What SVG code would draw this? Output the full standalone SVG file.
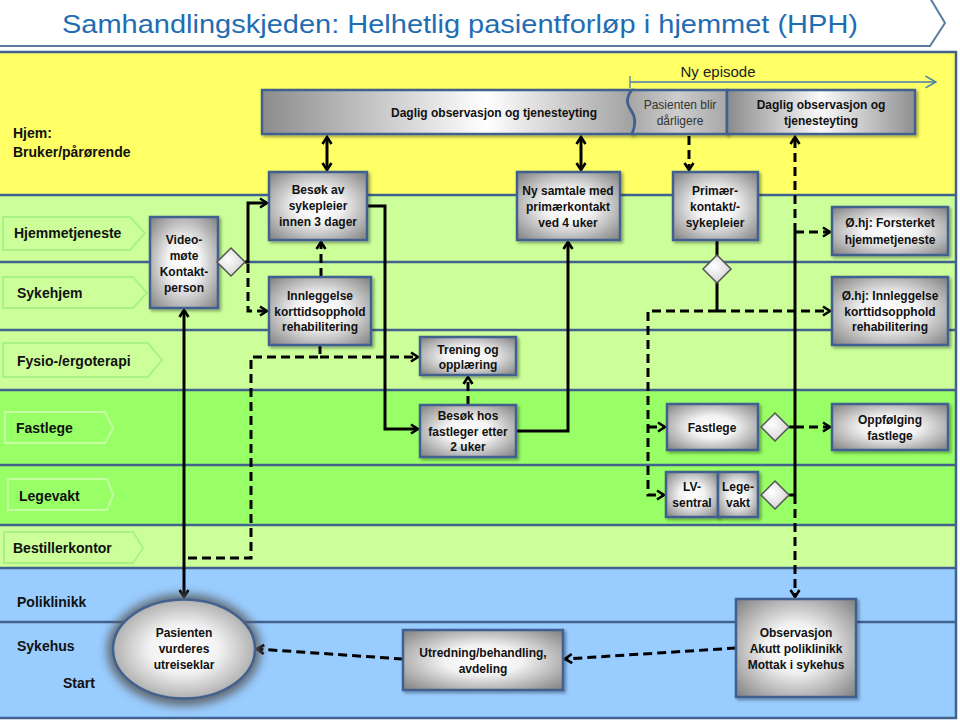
<svg xmlns="http://www.w3.org/2000/svg" width="960" height="720" viewBox="0 0 960 720">
<defs>
<style>
.t{font-family:"Liberation Sans",Arial,sans-serif;font-weight:bold;font-size:12px;fill:#111;text-anchor:middle}
.tn{font-family:"Liberation Sans",Arial,sans-serif;font-weight:normal;font-size:12px;fill:#333;text-anchor:middle}
.lb{font-family:"Liberation Sans",Arial,sans-serif;font-weight:bold;font-size:14px;fill:#111}
.ln{stroke:#41618F;stroke-width:2.5;fill:none}
.pt{stroke-width:2;}
.nd{fill:url(#rg);stroke:#41618F;stroke-width:2.5;filter:url(#sh)}
.dm{fill:url(#dg);stroke:#555;stroke-width:1.5}
.s{fill:none;stroke:#000;stroke-width:3}
.d{fill:none;stroke:#000;stroke-width:3;stroke-dasharray:9 5}
</style>
<radialGradient id="rg" cx="50%" cy="50%" r="70%"><stop offset="0" stop-color="#ffffff"/><stop offset="0.35" stop-color="#f2f2f2"/><stop offset="1" stop-color="#7f7f7f"/></radialGradient>
<radialGradient id="dg" cx="40%" cy="40%" r="70%"><stop offset="0" stop-color="#ffffff"/><stop offset="1" stop-color="#cfcfcf"/></radialGradient>
<linearGradient id="gBar" x1="0" x2="1" y1="0" y2="0"><stop offset="0" stop-color="#8c8c8c"/><stop offset="0.6" stop-color="#ffffff"/><stop offset="1" stop-color="#a0a0a0"/></linearGradient>
<linearGradient id="gPas" x1="0" x2="1" y1="0" y2="0"><stop offset="0" stop-color="#a4a4a4"/><stop offset="0.5" stop-color="#cdcdcd"/><stop offset="1" stop-color="#a8a8a8"/></linearGradient>
<linearGradient id="gDag" x1="0" x2="1" y1="0" y2="0"><stop offset="0" stop-color="#8a8a8a"/><stop offset="0.5" stop-color="#fafafa"/><stop offset="1" stop-color="#8f8f8f"/></linearGradient>
<filter id="sh" x="-10%" y="-10%" width="130%" height="130%"><feDropShadow dx="2" dy="2" stdDeviation="1.5" flood-color="#000" flood-opacity="0.35"/></filter>
<filter id="blur" x="-30%" y="-30%" width="160%" height="160%"><feGaussianBlur stdDeviation="5"/></filter>
<marker id="ah" viewBox="0 0 12 12" refX="10" refY="6" markerWidth="12" markerHeight="12" markerUnits="userSpaceOnUse" orient="auto-start-reverse"><path d="M3,1.5 L10,6 L3,10.5" fill="none" stroke="#000" stroke-width="2.6"/></marker>
<marker id="ah2" viewBox="0 0 12 12" refX="11" refY="6" markerWidth="14" markerHeight="14" markerUnits="userSpaceOnUse" orient="auto"><path d="M2,1 L11,6 L2,11" fill="none" stroke="#4A7DAA" stroke-width="1.3"/></marker>
</defs>

<rect x="0" y="0" width="960" height="720" fill="#ffffff"/>

<g id="title">
<path d="M-2,-2 L930,-2 L945,23 L930,46 L-2,46 Z" fill="#ffffff" stroke="#5B7BA0" stroke-width="2"/>
<text x="460" y="33" font-family="'Liberation Sans',Arial,sans-serif" font-size="25" fill="#1F6DB3" text-anchor="middle" textLength="796" lengthAdjust="spacingAndGlyphs">Samhandlingskjeden: Helhetlig pasientforløp i hjemmet (HPH)</text>
</g>

<g id="lanes">
<rect x="0" y="52" width="956" height="143" fill="#FFFF66"/>
<rect x="0" y="195" width="956" height="195" fill="#CCFF99"/>
<rect x="0" y="390" width="956" height="135" fill="#99FF66"/>
<rect x="0" y="525" width="956" height="43" fill="#CCFF99"/>
<rect x="0" y="568" width="956" height="150" fill="#99CCFF"/>
<path class="ln" d="M0,52 L956,52 L956,718 L0,718"/>
<path class="ln" d="M0,195 H956 M0,262 H956 M0,330 H956 M0,390 H956 M0,465 H956 M0,525 H956 M0,568 H956 M0,622 H956"/>
<polygon class="pt" points="3,217 130,217 145,233 130,250 3,250" fill="#CCFF99" stroke="#A9F383"/>
<polygon class="pt" points="3,277 133,277 147,293 133,308 3,308" fill="#CCFF99" stroke="#A9F383"/>
<polygon class="pt" points="3,343 148,343 162,360 148,377 3,377" fill="#CCFF99" stroke="#A9F383"/>
<polygon class="pt" points="5,412 105,412 113,428 105,443 5,443" fill="#99FF66" stroke="#C4FFA0"/>
<polygon class="pt" points="8,479 107,479 113,495 107,510 8,510" fill="#99FF66" stroke="#C4FFA0"/>
<polygon class="pt" points="4,532 133,532 143,548 133,563 4,563" fill="#CCFF99" stroke="#A9F383"/>
<text class="lb" x="13" y="138" font-size="13.5">Hjem:</text>
<text class="lb" x="13" y="157" font-size="13.5">Bruker/pårørende</text>
<text class="lb" x="14" y="238">Hjemmetjeneste</text>
<text class="lb" x="17" y="298">Sykehjem</text>
<text class="lb" x="17" y="366">Fysio-/ergoterapi</text>
<text class="lb" x="16" y="433">Fastlege</text>
<text class="lb" x="19" y="501">Legevakt</text>
<text class="lb" x="13" y="553">Bestillerkontor</text>
<text class="lb" x="17" y="607">Poliklinikk</text>
<text class="lb" x="17" y="651">Sykehus</text>
<text class="lb" x="63" y="688">Start</text>
</g>

<g id="episode">
<text x="718" y="77" font-family="'Liberation Sans',Arial,sans-serif" font-size="15" fill="#222" text-anchor="middle">Ny episode</text>
<path d="M630,76 L630,88 M630,82 L936,82" fill="none" stroke="#4A7DAA" stroke-width="1.3" marker-end="url(#ah2)"/>
</g>

<g id="connectors">
<path class="s" d="M327,137 L327,170" marker-start="url(#ah)" marker-end="url(#ah)"/>
<path class="s" d="M581,137 L581,170" marker-start="url(#ah)" marker-end="url(#ah)"/>
<path class="s" d="M245,262 L248,262 L248,203 L267,203" marker-end="url(#ah)"/>
<path class="s" d="M184,310 L184,597" marker-start="url(#ah)" marker-end="url(#ah)"/>
<path class="s" d="M367,206 L385,206 L385,429 L418,429" marker-end="url(#ah)"/>
<path class="s" d="M516,431 L568,431 L568,242" marker-end="url(#ah)"/>
<path class="s" d="M717,240 L717,256 M717,282 L717,311"/>
<path class="s" d="M789,427 L795,427 M789,495 L795,495 M795,232 L795,495"/>
<path class="d" d="M689,136 L689,170" marker-end="url(#ah)"/>
<path class="d" d="M795,232 L795,137" marker-end="url(#ah)"/>
<path class="d" d="M795,232 L830,232" marker-end="url(#ah)"/>
<path class="d" d="M795,495 L795,597" marker-end="url(#ah)"/>
<path class="d" d="M717,311 L830,311" marker-end="url(#ah)"/>
<path class="d" d="M717,311 L648,311 L648,495 L664,495" marker-end="url(#ah)"/>
<path class="d" d="M648,427 L665,427" marker-end="url(#ah)"/>
<path class="d" d="M795,427 L830,427" marker-end="url(#ah)"/>
<path class="d" d="M248,264 L248,311 L267,311" marker-end="url(#ah)"/>
<path class="d" d="M321,277 L321,242" marker-end="url(#ah)"/>
<path class="d" d="M320,345 L320,357 L251,357 L251,558 L184,558"/>
<path class="d" d="M320,357 L418,357" marker-end="url(#ah)"/>
<path class="d" d="M468,405 L468,377" marker-end="url(#ah)"/>
<path class="d" d="M736,648 L565,659" marker-end="url(#ah)"/>
<path class="d" d="M403,659 L257,649" marker-end="url(#ah)"/>
</g>

<g id="n-daglig1">
<path d="M262,90 L632,90 C626,97 626,103 631,110 C636,117 636,125 632,134 L262,134 Z" fill="url(#gBar)" stroke="#41618F" stroke-width="2.5" filter="url(#sh)"/>
<text class="t" x="494" y="117">Daglig observasjon og tjenesteyting</text>
</g>
<g id="n-pasienten">
<path d="M632,90 L727,90 L727,134 L632,134 C636,125 636,117 631,110 C626,103 626,97 632,90 Z" fill="url(#gPas)" stroke="#41618F" stroke-width="2.5" filter="url(#sh)"/>
<text class="tn" x="680" y="109">Pasienten blir</text>
<text class="tn" x="680" y="125">dårligere</text>
</g>
<g id="n-daglig2">
<rect x="727" y="90" width="188" height="44" fill="url(#gDag)" stroke="#41618F" stroke-width="2.5" filter="url(#sh)"/>
<text class="t" x="821" y="109">Daglig observasjon og</text>
<text class="t" x="821" y="125">tjenesteyting</text>
</g>

<g id="n-video">
<rect class="nd" x="150" y="217" width="68" height="91"/>
<text class="t"><tspan x="184" y="244">Video-</tspan><tspan x="184" y="260">møte</tspan><tspan x="184" y="276">Kontakt-</tspan><tspan x="184" y="292">person</tspan></text>
</g>
<g id="n-diamond1"><polygon class="dm" points="231,248 245,262 231,276 217,262"/></g>

<g id="n-besok">
<rect class="nd" x="269" y="172" width="98" height="68"/>
<text class="t"><tspan x="318" y="194">Besøk av</tspan><tspan x="318" y="210">sykepleier</tspan><tspan x="318" y="226">innen 3 dager</tspan></text>
</g>
<g id="n-innleggelse">
<rect class="nd" x="269" y="277" width="102" height="68"/>
<text class="t"><tspan x="320" y="300">Innleggelse</tspan><tspan x="320" y="316">korttidsopphold</tspan><tspan x="320" y="331">rehabilitering</tspan></text>
</g>
<g id="n-trening">
<rect class="nd" x="420" y="337" width="96" height="38"/>
<text class="t"><tspan x="468" y="354">Trening og</tspan><tspan x="468" y="369">opplæring</tspan></text>
</g>
<g id="n-besokhos">
<rect class="nd" x="420" y="405" width="96" height="52"/>
<text class="t"><tspan x="468" y="420">Besøk hos</tspan><tspan x="468" y="436">fastleger etter</tspan><tspan x="468" y="451">2 uker</tspan></text>
</g>
<g id="n-nysamtale">
<rect class="nd" x="517" y="172" width="103" height="68"/>
<text class="t"><tspan x="568" y="195">Ny samtale med</tspan><tspan x="568" y="211">primærkontakt</tspan><tspan x="568" y="227">ved 4 uker</tspan></text>
</g>
<g id="n-primaer">
<rect class="nd" x="673" y="172" width="85" height="68"/>
<text class="t"><tspan x="715" y="195">Primær-</tspan><tspan x="715" y="211">kontakt/-</tspan><tspan x="715" y="227">sykepleier</tspan></text>
</g>
<g id="n-diamond2"><polygon class="dm" points="717,255 731,269 717,283 703,269"/></g>
<g id="n-forsterket">
<rect class="nd" x="832" y="207" width="116" height="48"/>
<text class="t"><tspan x="890" y="227">Ø.hj: Forsterket</tspan><tspan x="890" y="244">hjemmetjeneste</tspan></text>
</g>
<g id="n-ohjinnleggelse">
<rect class="nd" x="832" y="277" width="116" height="68"/>
<text class="t"><tspan x="890" y="300">Ø.hj: Innleggelse</tspan><tspan x="890" y="316">korttidsopphold</tspan><tspan x="890" y="331">rehabilitering</tspan></text>
</g>
<g id="n-fastlege">
<rect class="nd" x="667" y="404" width="91" height="46"/>
<text class="t" x="712" y="432">Fastlege</text>
</g>
<g id="n-diamond3"><polygon class="dm" points="775,413 789,427 775,441 761,427"/></g>
<g id="n-oppfolging">
<rect class="nd" x="832" y="404" width="116" height="46"/>
<text class="t"><tspan x="890" y="424">Oppfølging</tspan><tspan x="890" y="440">fastlege</tspan></text>
</g>
<g id="n-lvsentral">
<rect class="nd" x="666" y="472" width="52" height="45"/>
<text class="t"><tspan x="692" y="491">LV-</tspan><tspan x="692" y="507">sentral</tspan></text>
</g>
<g id="n-legevakt">
<rect class="nd" x="718" y="472" width="40" height="45"/>
<text class="t"><tspan x="738" y="491">Lege-</tspan><tspan x="738" y="507">vakt</tspan></text>
</g>
<g id="n-diamond4"><polygon class="dm" points="775,481 789,495 775,509 761,495"/></g>
<g id="n-pasientenvurderes">
<ellipse cx="184" cy="650" rx="77" ry="56" fill="#5a5a5a" filter="url(#blur)" opacity="0.85"/>
<ellipse cx="184" cy="649" rx="71" ry="49.5" fill="url(#rg)" stroke="#41618F" stroke-width="2.5"/>
<text class="t"><tspan x="184" y="637">Pasienten</tspan><tspan x="184" y="653">vurderes</tspan><tspan x="184" y="669">utreiseklar</tspan></text>
</g>
<g id="n-utredning">
<rect class="nd" x="403" y="630" width="160" height="60"/>
<text class="t"><tspan x="483" y="657">Utredning/behandling,</tspan><tspan x="483" y="673">avdeling</tspan></text>
</g>
<g id="n-observasjon">
<rect class="nd" x="736" y="599" width="120" height="98"/>
<text class="t"><tspan x="796" y="637">Observasjon</tspan><tspan x="796" y="653">Akutt poliklinikk</tspan><tspan x="796" y="669">Mottak i sykehus</tspan></text>
</g>
</svg>
